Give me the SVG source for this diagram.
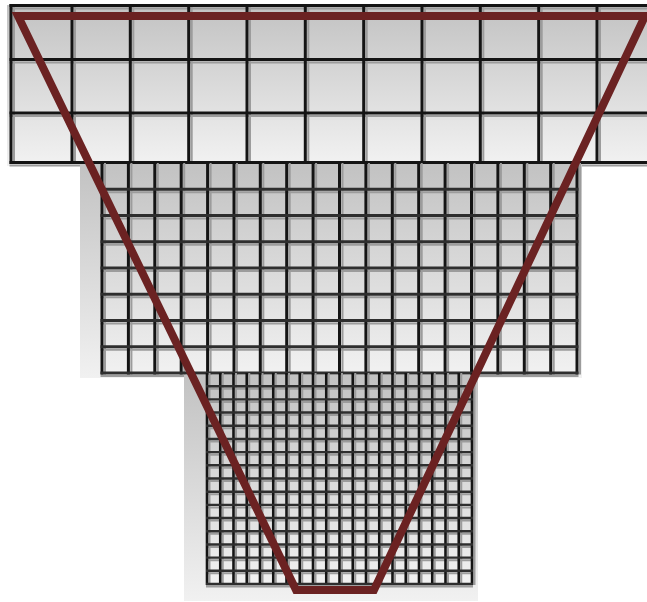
<svg xmlns="http://www.w3.org/2000/svg" xmlns:xlink="http://www.w3.org/1999/xlink" width="647" height="602" viewBox="0 0 647 602">
<style>
  .bg { fill: url(#shade); }
  .ghost { fill: url(#shade); }
  .shadow { stroke: #9c9c9c; fill: none; }
  .line { stroke: #141414; fill: none; }
  .hline { stroke: #2e2e2e; fill: none; }
  .funnel { fill: none; stroke: #6b2222; stroke-width: 8; stroke-linejoin: miter; }
</style>
<defs>
  <linearGradient id="shade" x1="0" y1="0" x2="0" y2="1">
    <stop offset="0" stop-color="#c2c2c2"/>
    <stop offset="1" stop-color="#f1f1f1"/>
  </linearGradient>
  <path id="top-v" d="M11 4V164M72 4V164M130.3 4V164M188.7 4V164M247 4V164M305.3 4V164M363.7 4V164M422 4V164M480.3 4V164M538.7 4V164M597 4V164"/>
  <path id="top-h" d="M9.5 5.5H647M9.5 59.5H647M9.5 113H647M9.5 162.5H647"/>
  <path id="mid-v" d="M102 163V374.5M128.4 163V374.5M154.8 163V374.5M181.2 163V374.5M207.6 163V374.5M234 163V374.5M260.3 163V374.5M286.7 163V374.5M313.1 163V374.5M339.5 163V374.5M365.9 163V374.5M392.3 163V374.5M418.7 163V374.5M445.1 163V374.5M471.5 163V374.5M497.9 163V374.5M524.3 163V374.5M550.7 163V374.5M577 163V374.5"/>
  <path id="mid-h" d="M100.5 189.25H578.5M100.5 215.5H578.5M100.5 241.75H578.5M100.5 268H578.5M100.5 294.25H578.5M100.5 320.5H578.5M100.5 346.75H578.5M100.5 373H578.5"/>
  <path id="bot-v" d="M207 373V585M220.25 373V585M233.5 373V585M246.75 373V585M260 373V585M273.25 373V585M286.5 373V585M299.75 373V585M313 373V585M326.25 373V585M339.5 373V585M352.75 373V585M366 373V585M379.25 373V585M392.5 373V585M405.75 373V585M419 373V585M432.25 373V585M445.5 373V585M458.75 373V585M472 373V585"/>
  <path id="bot-h" d="M206 386.19H473M206 399.38H473M206 412.56H473M206 425.75H473M206 438.94H473M206 452.13H473M206 465.31H473M206 478.5H473M206 491.69H473M206 504.88H473M206 518.06H473M206 531.25H473M206 544.44H473M206 557.63H473M206 570.81H473M206 584H473"/>
</defs>

<g id="level-top">
  <rect class="ghost" x="7" y="5" width="640" height="161"/>
  <rect class="bg" x="11" y="5" width="636" height="157"/>
  <use xlink:href="#top-v" class="shadow" stroke-width="2" transform="translate(3,0)"/>
  <use xlink:href="#top-h" class="shadow" stroke-width="2" transform="translate(0,3)"/>
  <use xlink:href="#top-v" class="line" stroke-width="3"/>
  <use xlink:href="#top-h" class="line" stroke-width="3"/>
</g>

<g id="level-middle">
  <rect class="ghost" x="80" y="164" width="502" height="214"/>
  <rect class="bg" x="102" y="164" width="475" height="209"/>
  <use xlink:href="#mid-v" class="shadow" stroke-width="2" transform="translate(3,0)"/>
  <use xlink:href="#mid-h" class="shadow" stroke-width="2" transform="translate(0,3)"/>
  <use xlink:href="#mid-v" class="line" stroke-width="3"/>
  <use xlink:href="#mid-h" class="hline" stroke-width="3"/>
</g>

<g id="level-bottom">
  <rect class="ghost" x="184" y="375" width="294" height="226"/>
  <rect class="bg" x="207" y="375" width="265" height="209"/>
  <use xlink:href="#bot-v" class="shadow" stroke-width="2" transform="translate(2.5,0)"/>
  <use xlink:href="#bot-h" class="shadow" stroke-width="2" transform="translate(0,2.5)"/>
  <use xlink:href="#bot-v" class="line" stroke-width="2.6"/>
  <use xlink:href="#bot-h" class="hline" stroke-width="2.4"/>
</g>

<g id="funnel">
  <polygon class="funnel" points="18,16 645,16 374,590 296,590"/>
</g>
</svg>
